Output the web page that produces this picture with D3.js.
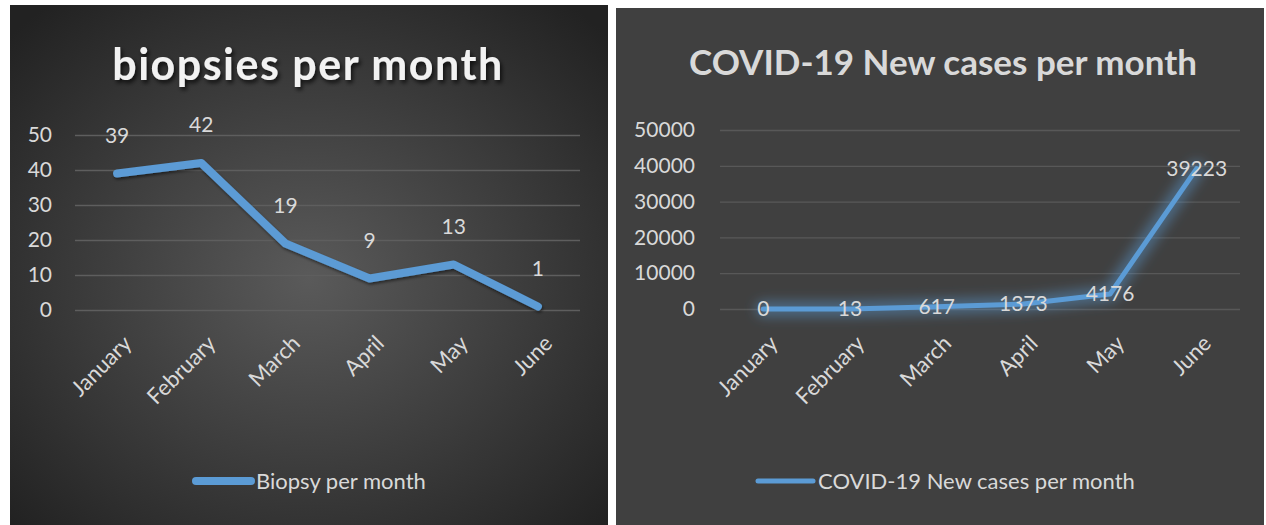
<!DOCTYPE html>
<html>
<head>
<meta charset="utf-8">
<script src="https://cdn.jsdelivr.net/npm/d3@7"></script>
<style>
  body { margin: 0; background: #fff; }
  svg { display: block; font-family: Lato, "Open Sans", sans-serif; }
</style>
</head>
<body>
<div id="chart"></div>
<script>
// data
var months = ["January", "February", "March", "April", "May", "June"];
var biopsies = [39, 42, 19, 9, 13, 1];
var covidCases = [0, 13, 617, 1373, 4176, 39223];
var biopsyTicks = [0, 10, 20, 30, 40, 50];
var covidTicks = [0, 10000, 20000, 30000, 40000, 50000];

var width = 1266, height = 525;
var blue = "#5b9bd5", textCol = "#d9d9d9";

var svg = d3.select("#chart").append("svg")
  .attr("width", width)
  .attr("height", height);

var defs = svg.append("defs");

var grad = defs.append("radialGradient")
  .attr("id", "leftBg")
  .attr("cx", "50%").attr("cy", "52%").attr("r", "68%");
grad.append("stop").attr("offset", "0%").attr("stop-color", "#5a5a5a");
grad.append("stop").attr("offset", "100%").attr("stop-color", "#222");

var shadow = defs.append("filter").attr("id", "titleShadow")
  .attr("x", "-10%").attr("y", "-30%").attr("width", "120%").attr("height", "160%");
shadow.append("feDropShadow")
  .attr("dx", 2).attr("dy", 3).attr("stdDeviation", 2)
  .attr("flood-color", "#000").attr("flood-opacity", 0.7);

var glow = defs.append("filter").attr("id", "glow")
  .attr("x", "-20%").attr("y", "-40%").attr("width", "140%").attr("height", "180%");
glow.append("feGaussianBlur").attr("stdDeviation", 6);

var lineShadow = defs.append("filter").attr("id", "lineShadow")
  .attr("x", "-10%").attr("y", "-20%").attr("width", "120%").attr("height", "140%");
lineShadow.append("feDropShadow")
  .attr("dx", 1).attr("dy", 2).attr("stdDeviation", 1.5)
  .attr("flood-color", "#000").attr("flood-opacity", 0.5);

// panel backgrounds
svg.append("rect").attr("x", 10).attr("y", 5).attr("width", 598).attr("height", 525)
  .attr("fill", "url(#leftBg)");
svg.append("rect").attr("x", 616).attr("y", 8).attr("width", 648).attr("height", 520)
  .attr("fill", "#404040");

function drawChart(opts) {
  var g = svg.append("g");

  var x = d3.scaleBand().domain(months).range([opts.left, opts.right]);
  var cx = function (m) { return x(m) + x.bandwidth() / 2; };
  var y = d3.scaleLinear().domain(d3.extent(opts.ticks)).range([opts.bottom, opts.top]);

  // gridlines
  g.append("g")
    .attr("transform", "translate(" + opts.left + ",0)")
    .call(d3.axisLeft(y).tickValues(opts.ticks).tickSize(-(opts.right - opts.left)).tickFormat(""))
    .call(function (s) {
      s.select(".domain").remove();
      s.selectAll("line").attr("stroke", opts.gridCol).attr("stroke-width", 1.3);
    });

  // y axis labels
  g.append("g")
    .attr("transform", "translate(" + opts.left + ",0)")
    .call(d3.axisLeft(y).tickValues(opts.ticks).tickSize(0).tickPadding(opts.tickPad).tickFormat(d3.format("d")))
    .call(function (s) {
      s.select(".domain").remove();
      s.selectAll("text").attr("fill", textCol).attr("font-size", "21px")
        .attr("font-family", "Lato, sans-serif");
    });

  // x axis labels, rotated
  g.append("g").selectAll("text")
    .data(months).enter().append("text")
    .attr("transform", function (m) {
      return "translate(" + (cx(m) + 5) + "," + opts.labelY + ") rotate(-45)";
    })
    .attr("text-anchor", "end")
    .attr("dy", "0.7em")
    .attr("fill", textCol)
    .attr("font-size", "22px")
    .text(function (m) { return m; });

  var line = d3.line()
    .x(function (d, i) { return cx(months[i]); })
    .y(function (d) { return y(d); });

  if (opts.glow) {
    g.append("path").datum(opts.values)
      .attr("d", line).attr("fill", "none")
      .attr("stroke", blue).attr("stroke-width", 16).attr("stroke-opacity", 0.45)
      .attr("stroke-linejoin", "round").attr("stroke-linecap", "round")
      .attr("filter", "url(#glow)");
  }

  g.append("path").datum(opts.values)
    .attr("d", line).attr("fill", "none")
    .attr("stroke", blue).attr("stroke-width", opts.lineW)
    .attr("stroke-linejoin", "round").attr("stroke-linecap", "round")
    .attr("filter", opts.glow ? null : "url(#lineShadow)");

  // data labels
  g.append("g").selectAll("text")
    .data(opts.values).enter().append("text")
    .attr("x", function (d, i) { return cx(months[i]); })
    .attr("y", function (d) { return y(d) + opts.labelOffset; })
    .attr("text-anchor", "middle")
    .attr("dy", "0.35em")
    .attr("fill", textCol)
    .attr("font-size", "21px")
    .text(function (d) { return d; });

  // title
  g.append("text")
    .attr("x", opts.titleX).attr("y", opts.titleY)
    .attr("text-anchor", "middle")
    .attr("fill", opts.titleCol)
    .attr("font-size", opts.titleSize)
    .attr("font-weight", opts.titleWeight)
    .attr("letter-spacing", opts.titleSpacing)
    .attr("filter", opts.titleShadow ? "url(#titleShadow)" : null)
    .text(opts.title);

  // legend
  var lg = g.append("g").attr("transform", "translate(" + opts.legendX + "," + opts.legendY + ")");
  lg.append("line").attr("x1", 0).attr("x2", 55).attr("y1", 0).attr("y2", 0)
    .attr("stroke", blue).attr("stroke-width", opts.lineW).attr("stroke-linecap", "round");
  lg.append("text").attr("x", 60).attr("dy", "0.35em")
    .attr("fill", textCol).attr("font-size", "22px")
    .text(opts.legend);
}

drawChart({
  values: biopsies, ticks: biopsyTicks,
  left: 75, right: 580, top: 135, bottom: 310, tickPad: 23,
  gridCol: "#5e5e5e", labelY: 334, lineW: 8, glow: false, labelOffset: -38,
  title: "biopsies per month", titleX: 308, titleY: 80, titleSize: "43px",
  titleWeight: "bold", titleSpacing: "1.5px", titleCol: "#f2f2f2", titleShadow: true,
  legend: "Biopsy per month", legendX: 196, legendY: 481
});

drawChart({
  values: covidCases, ticks: covidTicks,
  left: 720, right: 1240, top: 130, bottom: 309, tickPad: 25,
  gridCol: "#585858", labelY: 334, lineW: 5, glow: true, labelOffset: 0,
  title: "COVID-19 New cases per month", titleX: 943, titleY: 75, titleSize: "35px",
  titleWeight: "bold", titleSpacing: "0px", titleCol: "#d9d9d9", titleShadow: false,
  legend: "COVID-19 New cases per month", legendX: 758, legendY: 481
});
</script>
</body>
</html>
